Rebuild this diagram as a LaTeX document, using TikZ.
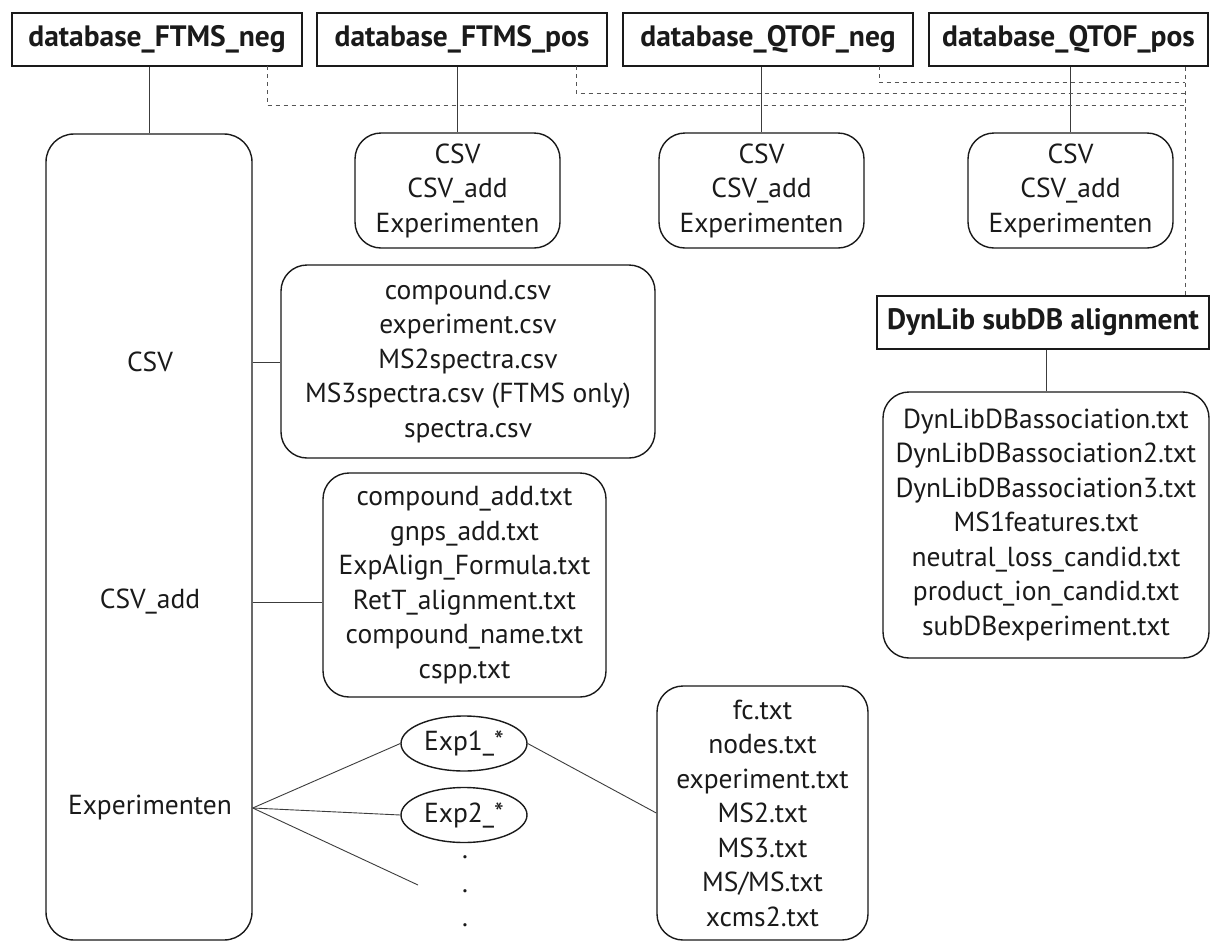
\documentclass[tikz,border=0pt]{standalone}
\usepackage{fontspec}
\setmainfont{PT Sans}
\usetikzlibrary{shapes.geometric}
\definecolor{ink}{HTML}{1A1A1A}
\definecolor{dashgray}{HTML}{555555}
\begin{document}
\begin{tikzpicture}[x=1pt,y=-1pt,
  titlebox/.style={draw=ink, line width=1.7pt, text=ink, inner sep=0pt,
    font=\bfseries\fontsize{29.5}{34}\selectfont, minimum height=53pt},
  rbox/.style={draw=ink, line width=1.4pt, text=ink, rounded corners=26pt, align=center,
    inner sep=0pt, font=\fontsize{27.5}{34.5}\selectfont},
  lbl/.style={text=ink, inner sep=0pt, font=\fontsize{27.5}{34.5}\selectfont},
  ell/.style={draw=ink, line width=1.4pt, ellipse, text=ink, inner sep=0pt,
    minimum width=126pt, minimum height=55pt, font=\fontsize{27.5}{31}\selectfont},
  conn/.style={draw=ink!85, line width=0.9pt},
  dline/.style={draw=dashgray, line width=0.9pt, dash pattern=on 4pt off 4pt}
]
\useasboundingbox (0,0) rectangle (1211,943);
\fill[white] (0,0) rectangle (1211,943);

% title boxes
\node[titlebox, minimum width=290pt] (t1) at (157,39.5) {database\_FTMS\_neg};
\node[titlebox, minimum width=290pt] (t2) at (462,39.5) {database\_FTMS\_pos};
\node[titlebox, minimum width=290pt] (t3) at (768,39.5) {database\_QTOF\_neg};
\node[titlebox, minimum width=279pt] (t4) at (1068.5,39.5) {database\_QTOF\_pos};

% sub boxes
\node[rbox, minimum width=205pt, minimum height=115pt] (s2) at (457.5,190.5) {CSV\\CSV\_add\\Experimenten};
\node[rbox, minimum width=205pt, minimum height=115pt] (s3) at (761.5,190.5) {CSV\\CSV\_add\\Experimenten};
\node[rbox, minimum width=205pt, minimum height=115pt] (s4) at (1070.5,190.5) {CSV\\CSV\_add\\Experimenten};

% big box
\node[draw=ink, line width=1.4pt, rounded corners=28pt, minimum width=206pt, minimum height=806pt, inner sep=0pt] (big) at (149,537) {};
\node[lbl] (lcsv) at (150,362) {CSV};
\node[lbl] (ladd) at (150,602) {CSV\_add};
\node[lbl] (lexp) at (150,808) {Experimenten};

% file boxes
\node[rbox, minimum width=374pt, minimum height=193pt] (fcsv) at (468,361.5)
  {compound.csv\\experiment.csv\\MS2spectra.csv\\MS3spectra.csv (FTMS only)\\spectra.csv};
\node[rbox, minimum width=283pt, minimum height=224pt] (fadd) at (464.5,585)
  {compound\_add.txt\\gnps\_add.txt\\ExpAlign\_Formula.txt\\RetT\_alignment.txt\\compound\_name.txt\\cspp.txt};
\node[rbox, minimum width=211pt, minimum height=254pt] (fexp) at (762.5,813)
  {fc.txt\\nodes.txt\\experiment.txt\\MS2.txt\\MS3.txt\\MS/MS.txt\\xcms2.txt};

% DynLib
\node[titlebox, minimum width=332pt] (dyn) at (1043,322.5) {DynLib subDB alignment};
\node[rbox, minimum width=326pt, minimum height=266pt] (fdyn) at (1046,525)
  {DynLibDBassociation.txt\\DynLibDBassociation2.txt\\DynLibDBassociation3.txt\\MS1features.txt\\neutral\_loss\_candid.txt\\product\_ion\_candid.txt\\subDBexperiment.txt};

% experiments
\node[ell] (e1) at (464,743.5) {Exp1\_*};
\node[ell] (e2) at (464,815) {Exp2\_*};
\node[lbl, anchor=base] (d1) at (465,858) {.};
\node[lbl, anchor=base] (d2) at (465,892) {.};
\node[lbl, anchor=base] (d3) at (465,926) {.};
\coordinate (e3) at (418,885);

% solid connectors
\draw[conn] (t1.south -| big.north) -- (big.north);
\draw[conn] (t2.south -| s2.north) -- (s2.north);
\draw[conn] (t3.south -| s3.north) -- (s3.north);
\draw[conn] (t4.south -| s4.north) -- (s4.north);
\draw[conn] (dyn.south -| fdyn.north) -- (fdyn.north);
\draw[conn] (big.east |- lcsv) -- (fcsv.west |- lcsv);
\draw[conn] (big.east |- ladd) -- (fadd.west |- ladd);
\coordinate (ex) at (big.east |- lexp);
\draw[conn] (ex) -- (e1.west);
\draw[conn] (ex) -- (e2.west);
\draw[conn] (ex) -- (e3);
\draw[conn] (e1.east) -- (fexp.west);

% dashed connectors
\coordinate (j1) at (1185,105.5);
\coordinate (j2) at (1185,93.5);
\coordinate (j3) at (1185,82.5);
\coordinate (a1) at (267,66);
\coordinate (a2) at (576,66);
\coordinate (a3) at (879,66);
\draw[dline] (a1) |- (j1);
\draw[dline] (a2) |- (j2);
\draw[dline] (a3) |- (j3);
\draw[dline] (t4.south -| j1) -- (dyn.north -| j1);
\end{tikzpicture}
\end{document}
